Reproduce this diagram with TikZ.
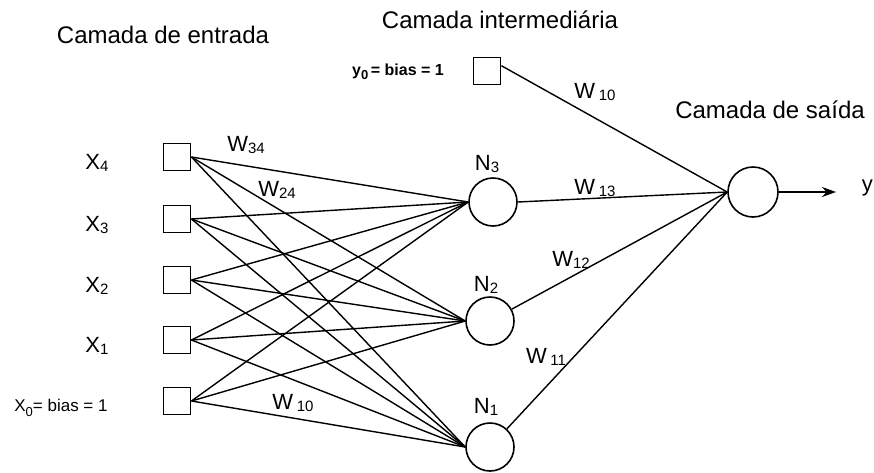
\documentclass[tikz,border=0pt]{standalone}
\usepackage{fontspec}
\setmainfont{Liberation Sans}
\usetikzlibrary{arrows.meta}
\newcommand{\mysub}[1]{\raisebox{-0.12em}{\fontsize{15}{15}\selectfont #1}}
\newcommand{\mysmallsub}[1]{\raisebox{-0.25em}{\fontsize{13}{13}\selectfont #1}}
\begin{document}
\begin{tikzpicture}[x=1pt,y=-1pt,
  inbox/.style={draw,line width=1.9pt,minimum size=27pt,inner sep=0pt},
  neuron/.style={draw,circle,line width=1.6pt,minimum size=48pt,inner sep=0pt},
  conn/.style={line width=1.4pt},
  title/.style={font=\fontsize{24}{24}\selectfont},
  lbl/.style={font=\fontsize{22}{22}\selectfont,inner sep=0pt},
  small/.style={font=\fontsize{17}{17}\selectfont,inner sep=0pt}]
\useasboundingbox (0,0) rectangle (874,472);
% input squares
\node[inbox] (x4) at (177,157) {};
\node[inbox] (x3) at (177,219) {};
\node[inbox] (x2) at (177,280) {};
\node[inbox] (x1) at (177,340) {};
\node[inbox] (x0) at (177,401) {};
% hidden neurons
\node[neuron] (n3) at (493,202) {};
\node[neuron] (n2) at (490,321) {};
\node[neuron] (n1) at (490,447) {};
% bias of hidden layer
\node[inbox] (b) at (487,71) {};
% output
\node[neuron,minimum size=50pt] (o) at (753,192) {};
\coordinate (yend) at (836,192);
% connections input -> hidden
\foreach \i in {x4,x3,x2,x1,x0}{
  \foreach \h in {n3,n2,n1}{
    \draw[conn] (\i.east) -- (\h.west);
  }
}
% hidden -> output
\draw[conn] (b.20) -- (o.west);
\draw[conn] (n3.east) -- (o.west);
\draw[conn] (n2) -- (o.west);
\draw[conn] (n1) -- (o.west);
\draw[line width=1.6pt,-{Stealth[length=14pt,width=10pt]}] (o.east) -- (yend);
% titles
\node[title] (t1) at (163,35) {Camada de entrada};
\node[title] (t2) at (500,20) {Camada intermediária};
\node[title] (t3) at (770,110) {Camada de saída};
% labels
\node[lbl] (lx4) at (97,163) {X\mysub{4}};
\node[lbl] (lx3) at (97,225) {X\mysub{3}};
\node[lbl] (lx2) at (97,286) {X\mysub{2}};
\node[lbl] (lx1) at (97,346) {X\mysub{1}};
\node[small] (lx0) at (61,408) {X\mysmallsub{0}= bias = 1};
\node[small,font=\fontsize{16}{16}\selectfont\bfseries] (lb) at (398,72) {y\mysmallsub{0}\,= bias = 1};
\node[lbl] (w34) at (246,145) {W\mysub{34}};
\node[lbl] (w24) at (277,190) {W\mysub{24}};
\node[lbl] (w10a) at (293,403) {W\,\mysub{10}};
\node[lbl] (w10b) at (595,92) {W\,\mysub{10}};
\node[lbl] (w13) at (595,188) {W\,\mysub{13}};
\node[lbl] (w12) at (571,260) {W\mysub{12}};
\node[lbl] (w11) at (546,357) {W\,\mysub{11}};
\node[lbl] (ln3) at (487,164) {N\mysub{3}};
\node[lbl] (ln2) at (486,285) {N\mysub{2}};
\node[lbl] (ln1) at (486,407) {N\mysub{1}};
\node[lbl,anchor=east] (ly) at (873,188) {y};
\end{tikzpicture}
\end{document}
